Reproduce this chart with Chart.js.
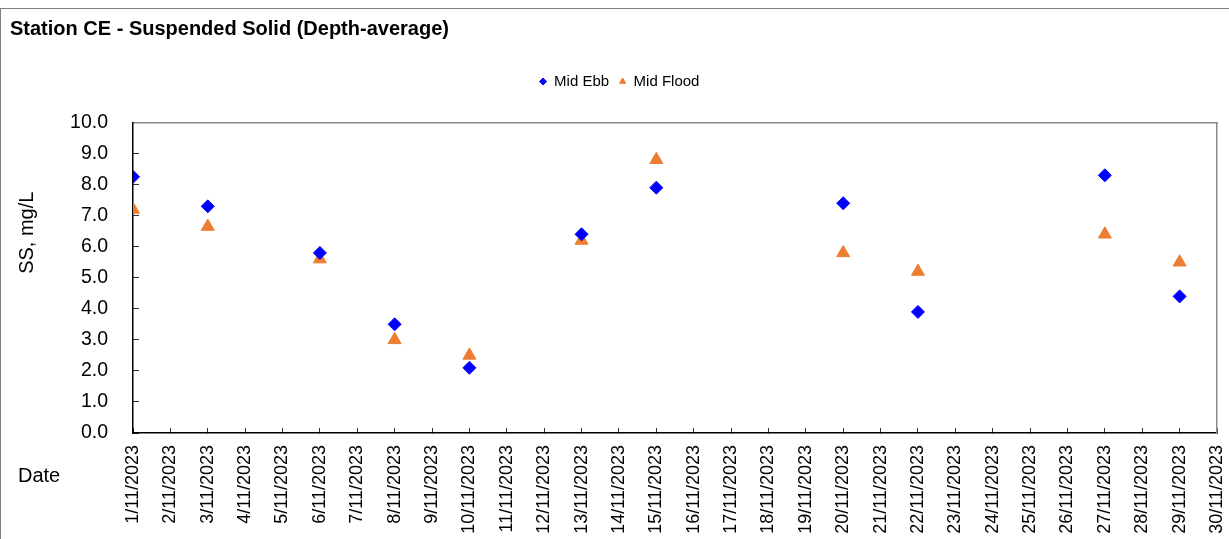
<!DOCTYPE html>
<html>
<head>
<meta charset="utf-8">
<title>Station CE - Suspended Solid</title>
<script src="https://cdn.jsdelivr.net/npm/chart.js@4/dist/chart.umd.min.js"></script>
<style>
    html, body { margin: 0; padding: 0; background: #fff; }
    #wrap { position: relative; width: 1229px; height: 539px; overflow: hidden; }
    #frame {
        position: absolute; left: 0; top: 8px; width: 1240px; height: 600px;
        border: 1px solid #7f7f7f; box-sizing: border-box; pointer-events: none;
    }
    canvas { position: absolute; left: 0; top: 0; }
</style>
</head>
<body>
<div id="wrap">
    <canvas id="ssChart" width="1229" height="539"></canvas>
    <div id="frame"></div>
</div>
<script>
// Sampling days in November 2023
const sampleDays = [1, 3, 6, 8, 10, 13, 15, 20, 22, 27, 29];
// Depth-averaged suspended solids, mg/L
const midEbb   = [8.25, 7.3, 5.8, 3.5, 2.1, 6.4, 7.9, 7.4, 3.9, 8.3, 4.4];
const midFlood = [7.2, 6.65, 5.6, 3.0, 2.5, 6.2, 8.8, 5.8, 5.2, 6.4, 5.5];
// Axis ranges and tick text
const dayRange = [1, 30];
const ssRange = [0, 10];
const dateSuffix = '/11/2023';

const FONT = "'Liberation Sans', Arial, sans-serif";
Chart.defaults.font.family = FONT;
Chart.defaults.color = '#000';

function toPoints(values) {
    return sampleDays.map((d, i) => ({ x: d, y: values[i] }));
}

// Axis titles placed like the Excel original (not centred on the plot)
const axisTitles = {
    id: 'axisTitles',
    afterDraw(chart) {
        const { ctx, chartArea } = chart;
        ctx.save();
        ctx.fillStyle = '#000';
        ctx.font = "20px " + FONT;
        ctx.textAlign = 'center';
        ctx.textBaseline = 'middle';
        ctx.translate(27, chartArea.top + (chartArea.bottom - chartArea.top) * 0.355);
        ctx.rotate(-Math.PI / 2);
        ctx.fillText('SS, mg/L', 0, 0);
        ctx.restore();

        ctx.save();
        ctx.fillStyle = '#000';
        ctx.font = "20px " + FONT;
        ctx.textAlign = 'left';
        ctx.textBaseline = 'middle';
        ctx.fillText('Date', 18, chartArea.bottom + 43);
        ctx.restore();
    }
};

const ctx = document.getElementById('ssChart').getContext('2d');
const ssChart = new Chart(ctx, {
    type: 'scatter',
    data: {
        datasets: [{
            label: 'Mid Ebb',
            data: toPoints(midEbb),
            pointStyle: 'rectRot',
            pointRadius: 6.5,
            pointHoverRadius: 6.5,
            backgroundColor: '#0000ff',
            borderColor: '#0000ff',
            borderWidth: 1
        }, {
            label: 'Mid Flood',
            data: toPoints(midFlood),
            pointStyle: 'triangle',
            pointRadius: 7.5,
            pointHoverRadius: 7.5,
            backgroundColor: '#ed7d31',
            borderColor: '#ed7d31',
            borderWidth: 1
        }]
    },
    options: {
        responsive: false,
        animation: false,
        layout: { padding: { top: 5, left: 10, right: 0, bottom: 0 } },
        plugins: {
            title: {
                display: true,
                text: 'Station CE - Suspended Solid (Depth-average)',
                align: 'start',
                color: '#000',
                font: { size: 20, weight: 'bold' },
                padding: { top: 12, bottom: 23 }
            },
            legend: {
                position: 'top',
                align: 'center',
                labels: {
                    usePointStyle: true,
                    boxWidth: 7,
                    boxHeight: 5,
                    padding: 10,
                    color: '#000',
                    font: { size: 15 }
                }
            },
            tooltip: { enabled: false }
        },
        scales: {
            x: {
                type: 'linear',
                position: 'bottom',
                min: dayRange[0],
                max: dayRange[1],
                afterFit: (s) => {
                    s.height = 106;
                    s.paddingLeft = 0;
                    s.paddingRight = 0;
                },
                border: { color: '#000', width: 1.5 },
                grid: { drawOnChartArea: false, drawTicks: true, tickLength: -5, color: '#333' },
                ticks: {
                    stepSize: 1,
                    autoSkip: false,
                    minRotation: 90,
                    maxRotation: 90,
                    padding: 17,
                    font: { size: 18 },
                    callback: (v) => v + dateSuffix
                }
            },
            xTop: {
                type: 'linear',
                position: 'top',
                min: dayRange[0],
                max: dayRange[1],
                afterFit: (s) => {
                    s.height = 23.5;
                    s.paddingLeft = 0;
                    s.paddingRight = 0;
                },
                border: { color: '#898989', width: 1.5 },
                grid: { display: false },
                ticks: { display: false }
            },
            y: {
                position: 'left',
                min: ssRange[0],
                max: ssRange[1],
                afterFit: (s) => { s.width = 123; },
                border: { color: '#000', width: 1.5 },
                grid: { drawOnChartArea: false, drawTicks: true, tickLength: -6, color: '#333' },
                ticks: {
                    stepSize: 1,
                    padding: 31,
                    font: { size: 19.5 },
                    callback: (v) => v.toFixed(1)
                }
            },
            yRight: {
                position: 'right',
                min: ssRange[0],
                max: ssRange[1],
                afterFit: (s) => {
                    s.width = 12;
                    s.paddingTop = 0;
                    s.paddingBottom = 0;
                },
                border: { color: '#898989', width: 1.5 },
                grid: { display: false },
                ticks: { display: false }
            }
        }
    },
    plugins: [axisTitles]
});
</script>
</body>
</html>
